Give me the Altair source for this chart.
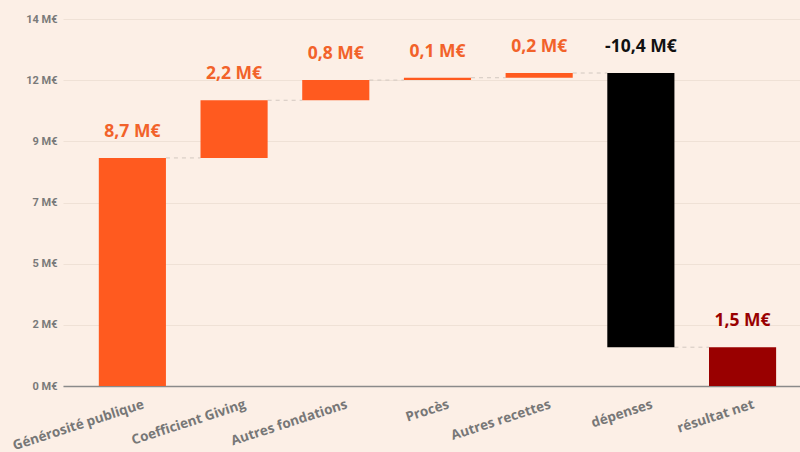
import altair as alt
import pandas as pd

categories = ["Générosité publique", "Coefficient Giving", "Autres fondations",
              "Procès", "Autres recettes", "dépenses", "résultat net"]
amounts = [8.7, 2.2, 0.77, 0.09, 0.18, -10.46]  # last category is the total
labels = ["8,7 M€", "2,2 M€", "0,8 M€", "0,1 M€", "0,2 M€", "-10,4 M€", "1,5 M€"]
kinds = ["recette", "recette", "recette", "recette", "recette", "dépense", "résultat"]
y_ticks = [0, 14 / 6, 28 / 6, 7, 56 / 6, 70 / 6, 14]

# build waterfall table
rows = []
level = 0.0
for cat, amt, lab, k in zip(categories[:-1], amounts, labels[:-1], kinds[:-1]):
    rows.append(dict(cat=cat, start=level, end=level + amt, label=lab, kind=k))
    level += amt
rows.append(dict(cat=categories[-1], start=0.0, end=level, label=labels[-1], kind=kinds[-1]))
df = pd.DataFrame(rows)
df["top"] = df[["start", "end"]].max(axis=1)

links = pd.DataFrame([
    dict(cat=categories[i], nxt=categories[i + 1], level=rows[i]["end"])
    for i in range(len(categories) - 1)
])

xscale = alt.Scale(domain=categories, paddingInner=0.34, paddingOuter=0.2935, align=0.6)
yscale = alt.Scale(domain=[0, 14], nice=False)

x_axis = alt.Axis(title=None, labelAngle=342, labelAlign="right", labelBaseline="top",
                  labelOffset=9, labelPadding=11, ticks=False, domain=True,
                  domainColor="#8a8a8a", domainWidth=1.5, labelFont="Open Sans",
                  labelFontSize=13.5, labelFontWeight="bold", labelColor="#777777",
                  grid=False)
y_axis = alt.Axis(title=None, values=y_ticks, labelExpr="round(datum.value) + ' M€'",
                  ticks=False, domain=False, labelFont="Roboto", labelFontSize=11,
                  labelFontWeight="bold", labelColor="#7a7a7a", labelPadding=6,
                  gridColor="#efe1d6", gridWidth=1)

bar_colors = alt.Scale(domain=["recette", "dépense", "résultat"],
                       range=["#ff5a1f", "#000000", "#990000"])
text_colors = alt.Scale(domain=["recette", "dépense", "résultat"],
                        range=["#f2622a", "#111111", "#990000"])

rules = alt.Chart(links).mark_rule(color="#d2c8c0", strokeDash=[4, 4], strokeWidth=1).encode(
    x=alt.X("cat:N", scale=xscale, axis=x_axis, bandPosition=1),
    x2=alt.X2("nxt:N", bandPosition=0),
    y=alt.Y("level:Q", scale=yscale, axis=y_axis),
)

bars = alt.Chart(df).mark_bar().encode(
    x=alt.X("cat:N", scale=xscale, axis=x_axis),
    y=alt.Y("start:Q", scale=yscale, axis=y_axis),
    y2="end:Q",
    color=alt.Color("kind:N", scale=bar_colors, legend=None),
)

texts = alt.Chart(df).mark_text(font="Open Sans", fontSize=17.5, fontWeight="bold",
                                baseline="middle", dy=-26).encode(
    x=alt.X("cat:N", scale=xscale, axis=x_axis),
    y=alt.Y("top:Q", scale=yscale, axis=y_axis),
    text="label:N",
    color=alt.Color("kind:N", scale=text_colors, legend=None),
)

chart = alt.layer(rules, bars, texts).resolve_scale(color="independent").properties(
    width=737, height=367,
    autosize=alt.AutoSizeParams(type="none"),
    padding={"left": 63, "top": 19, "right": 0, "bottom": 66},
    background="#fcefe6",
).configure_view(stroke=None)

chart.save("out.html", embed_options={"renderer": "svg", "actions": False})
